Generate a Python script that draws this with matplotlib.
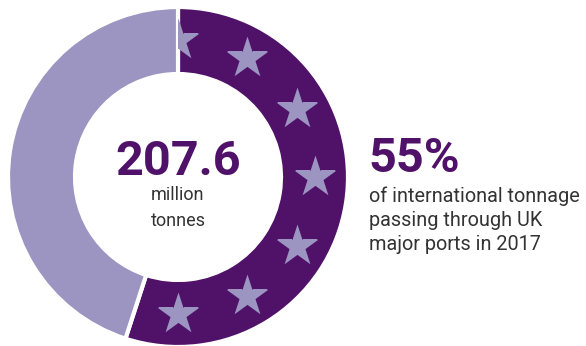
import numpy as np
import matplotlib.pyplot as plt

# data
shares = [55, 45]
labels = ["UK major ports", "Other"]
colors = ["#501268", "#9c95c2"]
total_tonnes = "207.6"
total_unit = "million\ntonnes"
share_text = "55%"
share_desc = "of international tonnage\npassing through UK\nmajor ports in 2017"

plt.rcParams['font.family'] = ['Roboto', 'DejaVu Sans']

fig = plt.figure(figsize=(5.86, 3.46), dpi=100)
ax = fig.add_axes([0, 0, 1, 1])

cx, cy, r = 178, 169, 170
wedges, _ = ax.pie(shares, colors=colors, startangle=90, counterclock=False,
                   center=(cx, cy), radius=r,
                   wedgeprops=dict(width=67, edgecolor="white", linewidth=3))

# EU-style ring of stars, shown only on the dark slice
ang = np.deg2rad(np.arange(12) * 30)
stars = ax.scatter(cx + 137 * np.cos(ang), cy + 137 * np.sin(ang), s=1000,
                   marker="*", color=colors[1], linewidths=0, zorder=3)
stars.set_clip_path(wedges[0])

ax.text(cx, 171, total_tonnes, ha="center", va="baseline", fontsize=35,
        fontweight="bold", color=colors[0])
for i, line in enumerate(total_unit.split("\n")):
    ax.text(cx, 146 - 26 * i, line, ha="center", va="baseline", fontsize=13,
            color="#333333")

ax.text(368, 174, share_text, ha="left", va="baseline", fontsize=35,
        fontweight="bold", color=colors[0])
for i, line in enumerate(share_desc.split("\n")):
    ax.text(369, 144 - 24 * i, line, ha="left", va="baseline", fontsize=14.3,
            color="#333333")

ax.set_xlim(0, 586)
ax.set_ylim(0, 346)
ax.set_aspect("equal")
ax.axis("off")

fig.savefig("out.png", dpi=100, facecolor="white")
